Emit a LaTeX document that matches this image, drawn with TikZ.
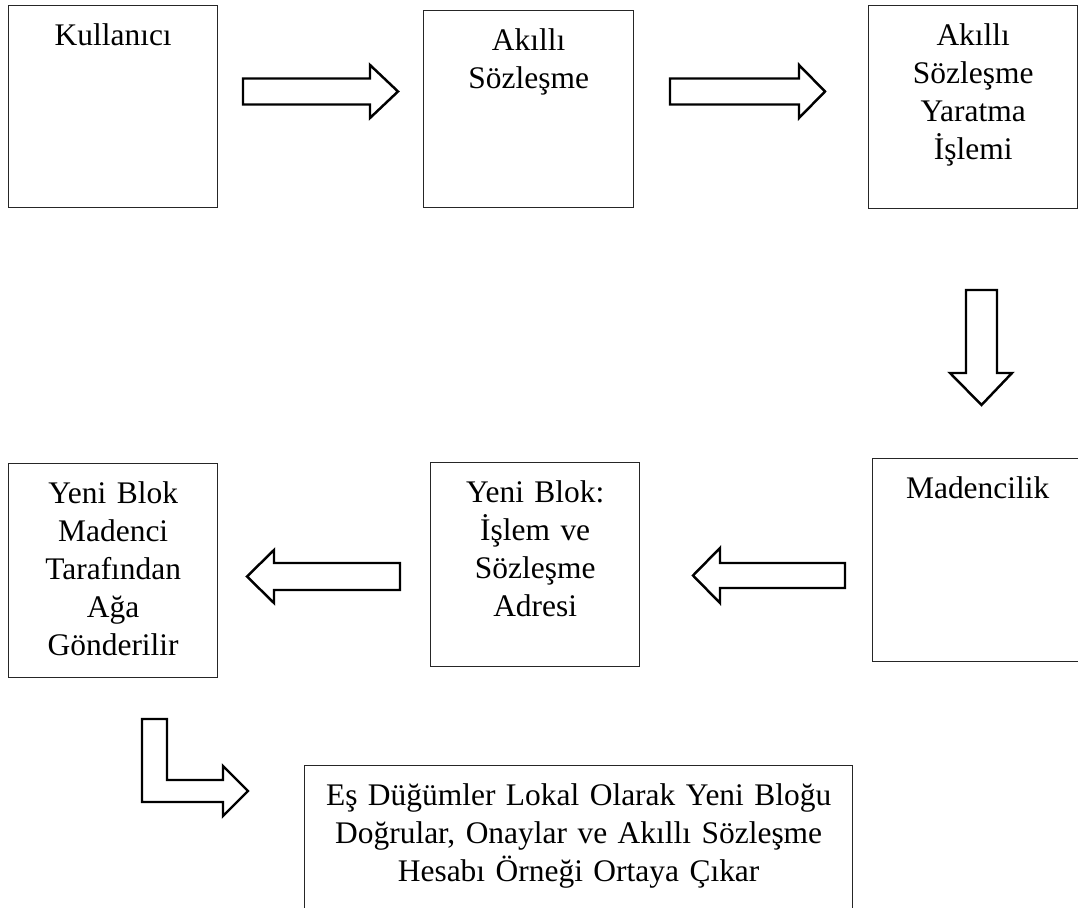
\documentclass[tikz,border=0pt]{standalone}
\usepackage{fontspec}
\setmainfont{Liberation Serif}
\tikzset{
  box/.style 2 args={
    draw=black!85, line width=0.8pt, inner sep=0pt, anchor=north west,
    align=center, text width=#1, text height=0.8cm, text depth=#2,
    font=\fontsize{17.9}{21.6}\selectfont
  },
  fat arrow/.style={
    draw=black, line width=1.4pt, fill=white, line join=miter
  }
}

\begin{document}
\begin{tikzpicture}[x=0.02cm, y=-0.02cm]
    \useasboundingbox (0,0) rectangle (1078,908);
    \clip (0,0) rectangle (1078,908);
    \fill[white] (0,0) rectangle (1078,908);

    % top row
    \node[box={4.18cm}{3.24cm}] (kul) at (8,5) {Kullanıcı};
    \node[box={4.20cm}{3.14cm}] (akl) at (423,10) {Akıllı\\Sözleşme};
    \node[box={4.18cm}{3.26cm}] (yar) at (868,5) {Akıllı\\Sözleşme\\Yaratma\\İşlemi};

    % middle row
    \node[box={4.20cm}{3.26cm}] (mad) at (872,458) {Madencilik};
    \node[box={4.18cm}{3.28cm}] (isl) at (430,462) {Yeni Blok:\\İşlem ve\\Sözleşme\\Adresi};
    \node[box={4.18cm}{3.48cm}] (gon) at (8,463) {Yeni Blok\\Madenci\\Tarafından\\Ağa\\Gönderilir};

    % bottom
    \node[box={10.96cm}{3.20cm}] (es) at (304,765) {Eş Düğümler Lokal Olarak Yeni Bloğu\\Doğrular, Onaylar ve Akıllı Sözleşme\\Hesabı Örneği Ortaya Çıkar};

    % block arrows
    \draw[fat arrow] (243,78.5) -- (370,78.5) -- (370,65) -- (398,91.5) -- (370,118) -- (370,104.5) -- (243,104.5) -- cycle;
    \draw[fat arrow] (670,78.5) -- (799,78.5) -- (799,65) -- (825,91.5) -- (799,118) -- (799,104.5) -- (670,104.5) -- cycle;
    \draw[fat arrow] (966,290) -- (997,290) -- (997,373) -- (1012,373) -- (981.5,405) -- (950,373) -- (966,373) -- cycle;
    \draw[fat arrow] (845,563) -- (720,563) -- (720,548) -- (693,575.5) -- (720,603) -- (720,588) -- (845,588) -- cycle;
    \draw[fat arrow] (400,563) -- (274,563) -- (274,550) -- (247,576.5) -- (274,603) -- (274,590) -- (400,590) -- cycle;
    \draw[fat arrow] (142,719) -- (167,719) -- (167,780) -- (223,780) -- (223,766) -- (248,791) -- (223,816) -- (223,802) -- (142,802) -- cycle;
\end{tikzpicture}
\end{document}
